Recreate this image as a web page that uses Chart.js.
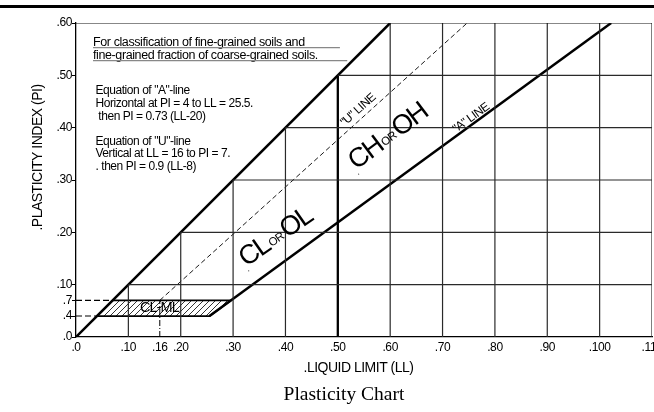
<!DOCTYPE html>
<html><head><meta charset="utf-8">
<script src="https://cdn.jsdelivr.net/npm/chart.js@4.4.1/dist/chart.umd.min.js"></script>
<style>html,body{margin:0;padding:0;background:#fff}#wrap{width:654px;height:412px;position:relative}</style>
</head><body><div id="wrap"><canvas id="c" width="654" height="412"></canvas></div>
<script>
// ---- tick values / labels ----
const xTickValues = [0,10,16,20,30,40,50,60,70,80,90,100,110];
const xTickLabels = ['.0','.10','.16','.20','.30','.40','.50','.60','.70','.80','.90','.100','.110'];
const yTickValues = [0,4,7,10,20,30,40,50,60];
const yTickLabels = ['.0','.4','.7','.10','.20','.30','.40','.50','.60'];
// ---- staircase grid ----
const hGridSteps = [10,20,30,40,50];
const vGridSteps = [10,20,30,40,60,70,80,90,100,110];
const xMax = 110, yMax = 60;
// ---- chart lines (LL, PI) ----
const upperLL = [0,60],      upperPI = [0,60];
const aLineLL = [25.5,102.2], aLinePI = [4,60];
const uLineLL = [16,74.7],   uLinePI = [7,60];
const uVertLL = [16,16],     uVertPI = [0,7];
const ll50LL  = [50,50],     ll50PI  = [0,50];
const clmlLL  = [4,25.5,29.6,7,4], clmlPI = [4,4,7,7,4];
const dash7LL = [0,7],  dash7PI = [7,7];
const dash4LL = [0,4],  dash4PI = [4,4];

const SANS = "'Liberation Sans', Arial, sans-serif";
const SERIF = "'Liberation Serif', 'Times New Roman', serif";

function seg(ll, pi){ return ll.map((v,i)=>({x:v,y:pi[i]})); }
function hatch(){
  const c=document.createElement('canvas'); c.width=6; c.height=6;
  const g=c.getContext('2d'); g.strokeStyle='#000'; g.lineWidth=0.8;
  g.beginPath(); g.moveTo(-1,7); g.lineTo(7,-1); g.moveTo(-1,1); g.lineTo(1,-1); g.moveTo(5,7); g.lineTo(7,5); g.stroke();
  return g.createPattern(c,'repeat');
}
function lineDs(data, w, color, dash){
  return {data, showLine:true, borderColor:color, borderWidth:w, borderDash:dash||[], pointRadius:0, fill:false, tension:0};
}
const datasets = [];
hGridSteps.forEach(s=>datasets.push(lineDs(seg([s,xMax],[s,s]),1.2,'#2a2a2a')));
datasets.push(lineDs(seg([0,xMax],[yMax,yMax]),1.2,'#111'));
vGridSteps.forEach(s=>datasets.push(lineDs(seg([s,s],[0,Math.min(s,yMax)]),1.2,'#2a2a2a')));
datasets.push(Object.assign(lineDs(seg(clmlLL,clmlPI),1.8,'#000'),{fill:'shape',backgroundColor:hatch()}));
datasets.push(lineDs(seg(dash7LL,dash7PI),1.1,'#000',[6,3]));
datasets.push(lineDs(seg(dash4LL,dash4PI),1.1,'#000',[6,3]));
datasets.push(lineDs(seg(uVertLL,uVertPI),1,'#000',[6,2,1,2]));
datasets.push(lineDs(seg(uLineLL,uLinePI),0.9,'#000',[5,3]));
datasets.push(lineDs(seg(upperLL,upperPI),2.5,'#000'));
datasets.push(lineDs(seg(aLineLL,aLinePI),2.5,'#000'));
datasets.push(lineDs(seg(ll50LL,ll50PI),2.3,'#000'));

// ---- texts ----
const headerLines = ['For classification of fine-grained soils and','fine-grained fraction of coarse-grained soils.'];
const equationLines = ['Equation of "A"-line','Horizontal at PI = 4 to LL = 25.5.',' then PI = 0.73 (LL-20)','Equation of "U"-line','Vertical at LL = 16 to PI = 7.','. then PI = 0.9 (LL-8)'];

function drawRun(ctx, px, py, deg, parts){
  ctx.save(); ctx.translate(px,py); ctx.rotate(deg*Math.PI/180);
  ctx.textAlign='left'; ctx.textBaseline='alphabetic'; ctx.fillStyle='#000';
  let cx=0;
  for(const p of parts){
    ctx.font = `${p.size}px ${SANS}`; ctx.letterSpacing = (p.ls||0)+'px';
    ctx.fillText(p.t, cx+(p.dx||0), p.dy||0);
    cx += ctx.measureText(p.t).width + (p.gap||0);
  }
  ctx.restore();
}

const notesPlugin = {
  id:'notes',
  beforeDraw(chart){ chart.ctx.letterSpacing='-0.4px'; },
  afterDatasetsDraw(chart){
    const {ctx, scales:{x,y}} = chart;
    const X = v=>x.getPixelForValue(v), Y = v=>y.getPixelForValue(v);
    ctx.save();
    ctx.fillStyle='#000'; ctx.textAlign='left'; ctx.textBaseline='alphabetic';
    // header
    ctx.font = `12.5px ${SANS}`; ctx.letterSpacing='-0.4px';
    ctx.fillText(headerLines[0], X(3.25), Y(55.6));
    ctx.fillText(headerLines[1], X(3.25), Y(53.1));
    ctx.strokeStyle='#888'; ctx.lineWidth=1.3;
    ctx.beginPath(); ctx.moveTo(X(3.25),Y(55.3)); ctx.lineTo(X(50.4),Y(55.3));
    ctx.moveTo(X(3.25),Y(52.8)); ctx.lineTo(X(51.8),Y(52.8)); ctx.stroke();
    // equations
    ctx.font = `12px ${SANS}`; ctx.letterSpacing='-0.45px';
    const eqPI = [46.34,43.95,41.56,36.69,34.30,31.91];
    equationLines.forEach((t,i)=>ctx.fillText(t, X(3.72), Y(eqPI[i])));
    // CL-ML
    ctx.font = `14.5px ${SANS}`; ctx.letterSpacing='-0.9px';
    ctx.fillText('CL-ML', X(12.2), Y(4.83));
    ctx.restore();
    // rotated labels
    drawRun(ctx, X(32.6), Y(13.4), -35, [{t:'.',size:9,dx:-2,dy:5,gap:-3},{t:'CL',size:27,ls:-1.8,gap:1.5},{t:'OR',size:11.5,ls:-0.6,gap:1.5,dy:-2},{t:'OL',size:27,ls:-1.8}]);
    drawRun(ctx, X(53.6), Y(31.9), -37, [{t:'.',size:9,dx:-2,dy:5,gap:-3},{t:'CH',size:27,ls:-1.8,gap:1.5},{t:'OR',size:11.5,ls:-0.6,gap:1.5,dy:-2},{t:'OH',size:27,ls:-1.8}]);
    drawRun(ctx, X(51.3), Y(40.2), -42, [{t:'"U" LINE',size:12,ls:-0.6}]);
    drawRun(ctx, X(72.6), Y(39.0), -36, [{t:'"A" LINE',size:12,ls:-0.6}]);
  },
  afterDraw(chart){
    const ctx = chart.ctx; const ca = chart.chartArea;
    ctx.save();
    ctx.fillStyle='#000';
    ctx.fillRect(0,5,chart.width,3);
    ctx.textAlign='center'; ctx.textBaseline='alphabetic';
    ctx.font = `14px ${SANS}`; ctx.letterSpacing='-0.5px';
    ctx.fillText('.LIQUID LIMIT (LL)', (ca.left+ca.right)/2 - 5.5, 371.5);
    ctx.save(); ctx.translate(41.5, 157.5); ctx.rotate(-Math.PI/2);
    ctx.fillText('.PLASTICITY INDEX (PI)', 0, 0); ctx.restore();
    ctx.font = `19.5px ${SERIF}`; ctx.letterSpacing='0px';
    ctx.fillText('Plasticity Chart', 344, 400);
    ctx.restore();
    ctx.letterSpacing='0px';
  }
};

new Chart(document.getElementById('c'), {
  type:'scatter',
  data:{datasets},
  plugins:[notesPlugin],
  options:{
    responsive:false, animation:false, devicePixelRatio:1,
    layout:{padding:{left:0,top:23,right:2,bottom:0}},
    plugins:{legend:{display:false}, tooltip:{enabled:false}, title:{display:false}},
    scales:{
      x:{type:'linear', min:0, max:xMax,
        afterBuildTicks:s=>{ s.ticks = xTickValues.map(v=>({value:v})); },
        ticks:{autoSkip:false, maxRotation:0, minRotation:0, padding:3, color:'#000', font:{family:SANS,size:12}, callback:(v,i)=>xTickLabels[i]},
        grid:{display:true, drawOnChartArea:false, drawTicks:false},
        border:{display:true, color:'#000', width:1.3},
        afterFit:s=>{ s.height=75; s.paddingLeft=0; s.paddingRight=0; }
      },
      y:{type:'linear', min:0, max:yMax,
        afterBuildTicks:s=>{ s.ticks = yTickValues.map(v=>({value:v})); },
        ticks:{autoSkip:false, padding:0, color:'#000', font:{family:SANS,size:12}, callback:(v,i)=>yTickLabels[i]},
        grid:{display:true, drawOnChartArea:false, drawTicks:true, tickLength:4, color:'#000'},
        border:{display:true, color:'#000', width:1.3},
        afterFit:s=>{ s.width=76; s.paddingTop=0; s.paddingBottom=0; }
      }
    }
  }
});
</script></body></html>
